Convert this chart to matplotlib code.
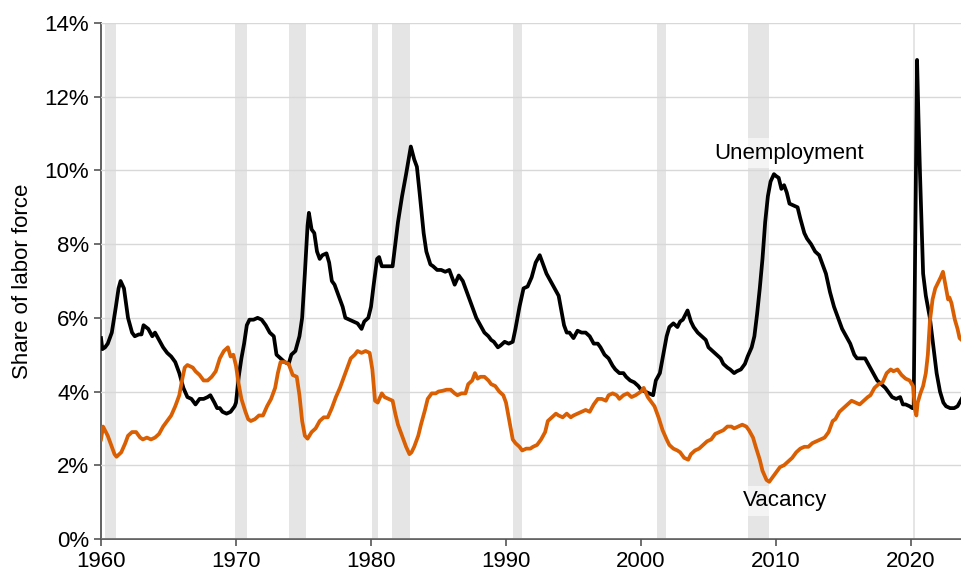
import matplotlib
matplotlib.use('Agg')
import matplotlib.pyplot as plt
from matplotlib.ticker import FuncFormatter

plt.rcParams['font.family'] = ['Liberation Sans', 'DejaVu Sans']

# recession periods (start, end), decimal years
recessions = [(1960.33, 1961.1), (1969.95, 1970.85), (1973.9, 1975.2),
              (1980.05, 1980.55), (1981.55, 1982.9), (1990.55, 1991.2),
              (2001.2, 2001.87), (2007.95, 2009.45), (2020.14, 2020.28)]

# unemployment rate
unemp_year = [1960.0, 1960.1, 1960.3, 1960.5, 1960.8, 1961.1, 1961.3, 1961.45, 1961.7,
              1962.0, 1962.3, 1962.5, 1962.8, 1963.0, 1963.15, 1963.5, 1963.8, 1964.0,
              1964.3, 1964.6, 1964.9, 1965.2, 1965.5, 1965.8, 1966.1, 1966.4, 1966.7,
              1967.0, 1967.3, 1967.6, 1967.9, 1968.1, 1968.4, 1968.6, 1968.8, 1969.0,
              1969.3, 1969.6, 1969.9, 1970.0, 1970.2, 1970.4, 1970.6, 1970.8, 1971.0,
              1971.3, 1971.6, 1971.9, 1972.2, 1972.5, 1972.8, 1973.0, 1973.3, 1973.6,
              1973.9, 1974.1, 1974.4, 1974.7, 1974.9, 1975.1, 1975.3, 1975.4, 1975.6,
              1975.8, 1976.0, 1976.2, 1976.4, 1976.7, 1976.9, 1977.1, 1977.3, 1977.6,
              1977.9, 1978.1, 1978.4, 1978.7, 1979.0, 1979.3, 1979.5, 1979.8, 1980.0,
              1980.2, 1980.45, 1980.6, 1980.8, 1981.0, 1981.3, 1981.6, 1981.8, 1982.0,
              1982.3, 1982.6, 1982.95, 1983.2, 1983.4, 1983.6, 1983.9, 1984.1, 1984.4,
              1984.6, 1984.9, 1985.2, 1985.5, 1985.8, 1986.0, 1986.2, 1986.5, 1986.8,
              1987.0, 1987.3, 1987.5, 1987.8, 1988.1, 1988.4, 1988.7, 1988.9, 1989.1,
              1989.4, 1989.6, 1989.9, 1990.2, 1990.5, 1990.7, 1991.0, 1991.3, 1991.6,
              1991.9, 1992.2, 1992.5, 1992.7, 1993.0, 1993.3, 1993.6, 1993.9, 1994.1,
              1994.3, 1994.5, 1994.7, 1995.0, 1995.3, 1995.6, 1995.9, 1996.2, 1996.5,
              1996.8, 1997.0, 1997.3, 1997.6, 1997.9, 1998.1, 1998.4, 1998.7, 1998.9,
              1999.2, 1999.5, 1999.8, 2000.0, 2000.3, 2000.6, 2000.9, 2001.1, 2001.4,
              2001.6, 2001.9, 2002.1, 2002.4, 2002.7, 2002.9, 2003.1, 2003.45, 2003.7,
              2003.9, 2004.2, 2004.5, 2004.8, 2005.0, 2005.3, 2005.6, 2005.9, 2006.1,
              2006.4, 2006.6, 2006.9, 2007.1, 2007.4, 2007.7, 2007.9, 2008.2, 2008.4,
              2008.6, 2008.8, 2009.0, 2009.2, 2009.4, 2009.6, 2009.85, 2010.0, 2010.2,
              2010.4, 2010.6, 2010.8, 2011.0, 2011.3, 2011.6, 2011.8, 2012.1, 2012.3,
              2012.6, 2012.9, 2013.2, 2013.4, 2013.7, 2014.0, 2014.3, 2014.6, 2014.9,
              2015.2, 2015.5, 2015.8, 2016.0, 2016.3, 2016.6, 2016.9, 2017.2, 2017.5,
              2017.8, 2018.1, 2018.4, 2018.6, 2018.9, 2019.2, 2019.4, 2019.6, 2019.9,
              2020.1, 2020.2, 2020.3, 2020.45, 2020.55, 2020.67, 2020.9, 2021.1, 2021.4,
              2021.6, 2021.9, 2022.15, 2022.4, 2022.6, 2022.9, 2023.2, 2023.45, 2023.6,
              2023.75]
unemp_rate = [5.45, 5.15, 5.2, 5.3, 5.6, 6.3, 6.8, 7.0, 6.8,
              6.0, 5.6, 5.5, 5.55, 5.55, 5.8, 5.7, 5.5, 5.6,
              5.4, 5.2, 5.05, 4.95, 4.8, 4.5, 4.1, 3.85, 3.8,
              3.65, 3.8, 3.8, 3.85, 3.9, 3.7, 3.55, 3.55, 3.45,
              3.4, 3.45, 3.6, 3.7, 4.4, 4.9, 5.3, 5.8, 5.95,
              5.95, 6.0, 5.95, 5.8, 5.6, 5.5, 5.0, 4.9, 4.8,
              4.75, 5.0, 5.1, 5.5, 6.0, 7.2, 8.5, 8.85, 8.4,
              8.3, 7.8, 7.6, 7.7, 7.75, 7.5, 7.0, 6.9, 6.6,
              6.3, 6.0, 5.95, 5.9, 5.85, 5.7, 5.9, 6.0, 6.3,
              6.9, 7.6, 7.65, 7.4, 7.4, 7.4, 7.4, 8.0, 8.6,
              9.3, 9.9, 10.65, 10.3, 10.1, 9.4, 8.3, 7.8, 7.45,
              7.4, 7.3, 7.3, 7.25, 7.3, 7.1, 6.9, 7.15, 7.0,
              6.8, 6.5, 6.3, 6.0, 5.8, 5.6, 5.5, 5.4, 5.35,
              5.2, 5.25, 5.35, 5.3, 5.35, 5.7, 6.3, 6.8, 6.85,
              7.1, 7.5, 7.7, 7.5, 7.2, 7.0, 6.8, 6.6, 6.2,
              5.8, 5.6, 5.6, 5.45, 5.65, 5.6, 5.6, 5.5, 5.3,
              5.3, 5.2, 5.0, 4.9, 4.7, 4.6, 4.5, 4.5, 4.4,
              4.3, 4.25, 4.15, 4.05, 4.0, 3.95, 3.9, 4.3, 4.5,
              4.9, 5.5, 5.75, 5.85, 5.75, 5.9, 5.95, 6.2, 5.9,
              5.75, 5.6, 5.5, 5.4, 5.2, 5.1, 5.0, 4.9, 4.75,
              4.65, 4.6, 4.5, 4.55, 4.6, 4.75, 4.95, 5.2, 5.5,
              6.1, 6.8, 7.6, 8.6, 9.3, 9.7, 9.9, 9.85, 9.8,
              9.5, 9.6, 9.4, 9.1, 9.05, 9.0, 8.7, 8.3, 8.15,
              8.0, 7.8, 7.7, 7.5, 7.2, 6.7, 6.3, 6.0, 5.7,
              5.5, 5.3, 5.0, 4.9, 4.9, 4.9, 4.7, 4.5, 4.3,
              4.2, 4.1, 3.95, 3.85, 3.8, 3.85, 3.65, 3.65, 3.6,
              3.55, 3.55, 7.5, 13.0, 11.5, 9.9, 7.2, 6.6, 6.0,
              5.4, 4.5, 4.0, 3.7, 3.6, 3.55, 3.55, 3.6, 3.7,
              3.8]

# job vacancy rate
vac_year = [1960.0, 1960.15, 1960.5, 1960.8, 1961.0, 1961.15, 1961.5, 1961.8, 1962.0,
            1962.3, 1962.6, 1962.9, 1963.1, 1963.4, 1963.7, 1964.0, 1964.3, 1964.6,
            1964.9, 1965.2, 1965.5, 1965.8, 1966.0, 1966.2, 1966.4, 1966.8, 1967.0,
            1967.3, 1967.6, 1967.9, 1968.2, 1968.5, 1968.8, 1969.1, 1969.4, 1969.6,
            1969.8, 1970.0, 1970.2, 1970.4, 1970.7, 1970.9, 1971.1, 1971.4, 1971.7,
            1972.0, 1972.3, 1972.6, 1972.9, 1973.1, 1973.3, 1973.6, 1973.9, 1974.2,
            1974.5, 1974.7, 1974.9, 1975.1, 1975.3, 1975.6, 1975.9, 1976.2, 1976.5,
            1976.8, 1977.1, 1977.4, 1977.7, 1978.0, 1978.3, 1978.5, 1978.8, 1979.0,
            1979.3, 1979.6, 1979.9, 1980.1, 1980.3, 1980.5, 1980.8, 1981.0, 1981.3,
            1981.6, 1981.8, 1982.0, 1982.3, 1982.6, 1982.85, 1983.0, 1983.2, 1983.5,
            1983.7, 1984.0, 1984.2, 1984.5, 1984.8, 1985.0, 1985.3, 1985.6, 1985.9,
            1986.2, 1986.4, 1986.7, 1987.0, 1987.2, 1987.5, 1987.7, 1987.9, 1988.1,
            1988.4, 1988.7, 1988.9, 1989.2, 1989.5, 1989.8, 1990.0, 1990.3, 1990.5,
            1990.7, 1991.0, 1991.2, 1991.5, 1991.8, 1992.0, 1992.3, 1992.6, 1992.9,
            1993.1, 1993.4, 1993.7, 1993.9, 1994.2, 1994.5, 1994.8, 1995.0, 1995.3,
            1995.6, 1995.9, 1996.2, 1996.5, 1996.8, 1997.1, 1997.4, 1997.6, 1997.9,
            1998.2, 1998.4, 1998.7, 1999.0, 1999.3, 1999.6, 2000.0, 2000.2, 2000.5,
            2000.8, 2001.0, 2001.3, 2001.6, 2001.9, 2002.1, 2002.4, 2002.7, 2002.9,
            2003.2, 2003.5, 2003.7, 2004.0, 2004.3, 2004.6, 2004.9, 2005.2, 2005.5,
            2005.8, 2006.1, 2006.4, 2006.7, 2006.9, 2007.2, 2007.5, 2007.8, 2008.0,
            2008.3, 2008.5, 2008.8, 2009.0, 2009.3, 2009.5, 2009.7, 2010.0, 2010.3,
            2010.6, 2010.9, 2011.2, 2011.5, 2011.8, 2012.1, 2012.4, 2012.7, 2013.0,
            2013.3, 2013.6, 2013.9, 2014.2, 2014.4, 2014.7, 2015.0, 2015.3, 2015.6,
            2015.9, 2016.2, 2016.5, 2016.8, 2017.0, 2017.3, 2017.6, 2017.9, 2018.2,
            2018.5, 2018.7, 2019.0, 2019.3, 2019.6, 2019.9, 2020.15, 2020.3, 2020.4,
            2020.5, 2020.7, 2020.9, 2021.1, 2021.25, 2021.4, 2021.6, 2021.8, 2022.0,
            2022.2, 2022.37, 2022.5, 2022.6, 2022.75, 2022.85, 2023.0, 2023.25, 2023.45,
            2023.6, 2023.75]
vac_rate = [2.7, 3.05, 2.8, 2.5, 2.3, 2.23, 2.35, 2.6, 2.8,
            2.9, 2.9, 2.75, 2.7, 2.75, 2.7, 2.75, 2.85, 3.05,
            3.2, 3.35, 3.6, 3.9, 4.3, 4.65, 4.72, 4.65, 4.55,
            4.45, 4.3, 4.3, 4.4, 4.55, 4.9, 5.1, 5.2, 4.95,
            5.0, 4.7, 4.2, 3.8, 3.45, 3.25, 3.2, 3.25, 3.35,
            3.35, 3.6, 3.8, 4.1, 4.5, 4.8, 4.8, 4.75, 4.45,
            4.4, 3.9, 3.2, 2.8, 2.72, 2.9, 3.0, 3.2, 3.3,
            3.3, 3.55, 3.85, 4.1, 4.4, 4.7, 4.9, 5.0, 5.1,
            5.05, 5.1, 5.05, 4.6, 3.75, 3.7, 3.95, 3.85, 3.8,
            3.75, 3.4, 3.1, 2.8, 2.5, 2.3, 2.35, 2.5, 2.8,
            3.1, 3.5, 3.8, 3.95, 3.95, 4.0, 4.02, 4.05, 4.05,
            3.95, 3.9, 3.95, 3.95, 4.2, 4.3, 4.5, 4.35, 4.4,
            4.4, 4.3, 4.2, 4.15, 4.0, 3.9, 3.7, 3.1, 2.7,
            2.6, 2.5, 2.4, 2.45, 2.45, 2.5, 2.55, 2.7, 2.9,
            3.2, 3.3, 3.4, 3.35, 3.3, 3.4, 3.3, 3.35, 3.4,
            3.45, 3.5, 3.45, 3.65, 3.8, 3.8, 3.75, 3.9, 3.95,
            3.9, 3.8, 3.9, 3.95, 3.85, 3.9, 4.0, 4.1, 3.85,
            3.7, 3.6, 3.3, 2.95, 2.7, 2.55, 2.45, 2.4, 2.35,
            2.2, 2.15, 2.3, 2.4, 2.45, 2.55, 2.65, 2.7, 2.85,
            2.9, 2.95, 3.05, 3.05, 3.0, 3.05, 3.1, 3.05, 2.95,
            2.75, 2.5, 2.15, 1.85, 1.6, 1.55, 1.65, 1.8, 1.95,
            2.0, 2.1, 2.2, 2.35, 2.45, 2.5, 2.5, 2.6, 2.65,
            2.7, 2.75, 2.9, 3.2, 3.25, 3.45, 3.55, 3.65, 3.75,
            3.7, 3.65, 3.75, 3.85, 3.9, 4.1, 4.2, 4.25, 4.5,
            4.6, 4.55, 4.6, 4.45, 4.35, 4.3, 4.15, 3.5, 3.35,
            3.7, 3.95, 4.15, 4.5, 5.0, 5.9, 6.5, 6.8, 6.95,
            7.1, 7.25, 7.0, 6.8, 6.5, 6.55, 6.4, 5.95, 5.7,
            5.45, 5.4]

x_ticks = [1960, 1970, 1980, 1990, 2000, 2010, 2020]
y_ticks = [0, 2, 4, 6, 8, 10, 12, 14]

fig = plt.figure(figsize=(9.62, 5.77), dpi=100)
ax = fig.add_axes([0.105, 0.066, 0.895, 0.894])

for start, end in recessions:
    ax.axvspan(start, end, color='#e5e5e5', lw=0, zorder=0)

ax.grid(axis='y', color='#d8d8d8', lw=1.0, zorder=1)
ax.set_axisbelow(False)

ax.plot(unemp_year, unemp_rate, color='black', lw=2.7, zorder=3,
        solid_joinstyle='round')
ax.plot(vac_year, vac_rate, color='#d95f02', lw=2.7, zorder=3,
        solid_joinstyle='round')

box = dict(facecolor='white', alpha=0.6, edgecolor='none', pad=3)
ax.text(2011.0, 10.47, 'Unemployment', fontsize=16, ha='center', va='center',
        bbox=box, zorder=4)
ax.text(2010.7, 1.03, 'Vacancy', fontsize=16, ha='center', va='center',
        bbox=box, zorder=4)

ax.set_xlim(1960, 2023.78)
ax.set_ylim(0, 14)
ax.set_xticks(x_ticks)
ax.set_yticks(y_ticks)
ax.yaxis.set_major_formatter(FuncFormatter(lambda v, p: '{:.0f}%'.format(v)))
ax.tick_params(labelsize=16, color='#555555', length=5, width=1.2)
ax.set_ylabel('Share of labor force', fontsize=16, labelpad=8)

for side in ['top', 'right']:
    ax.spines[side].set_visible(False)
for side in ['left', 'bottom']:
    ax.spines[side].set_color('#555555')
    ax.spines[side].set_linewidth(1.3)

fig.savefig('out.png', dpi=100)
